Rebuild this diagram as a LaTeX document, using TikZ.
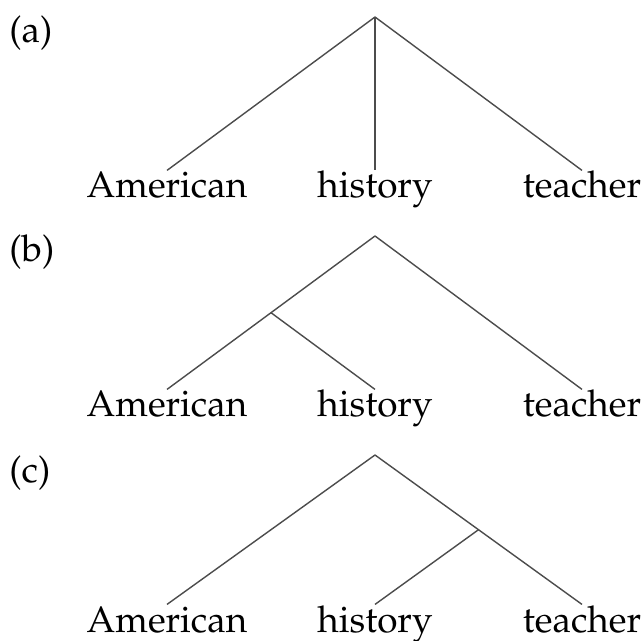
\documentclass[tikz,border=0pt]{standalone}
\usepackage[T1]{fontenc}
\usepackage{mathpazo}
\usepackage{tikz}
\usetikzlibrary{calc}

\begin{document}
\begin{tikzpicture}[x=0.02cm,y=-0.02cm,
  leaf/.style={anchor=base,inner sep=0pt,text height=0.75em,text depth=0.22em,font=\fontsize{21}{25}\selectfont},
  tag/.style={anchor=base west,inner sep=0pt,font=\fontsize{21}{25}\selectfont},
  branch/.style={draw=black!70,line width=0.8pt}]
  \useasboundingbox (0,0) rectangle (642,641);

  % (a) flat
  \node[tag] (taga) at (9,43) {(a)};
  \coordinate (topa) at (375,17);
  \node[leaf] (ama) at (167,198) {American};
  \node[leaf] (hia) at (375,198) {history};
  \node[leaf] (tea) at (582,198) {teacher};
  \draw[branch] (topa) -- ([yshift=8pt]ama.north);
  \draw[branch] (topa) -- ([yshift=8pt]hia.north);
  \draw[branch] (topa) -- ([yshift=8pt]tea.north);

  % (b) left branching
  \node[tag] (tagb) at (9,262) {(b)};
  \coordinate (topb) at (375,236);
  \node[leaf] (amb) at (167,417) {American};
  \node[leaf] (hib) at (375,417) {history};
  \node[leaf] (teb) at (582,417) {teacher};
  \coordinate (midb) at ($(topb)!0.5!([yshift=8pt]amb.north)$);
  \draw[branch] (topb) -- ([yshift=8pt]amb.north);
  \draw[branch] (midb) -- ([yshift=8pt]hib.north);
  \draw[branch] (topb) -- ([yshift=8pt]teb.north);

  % (c) right branching
  \node[tag] (tagc) at (9,482) {(c)};
  \coordinate (topc) at (375,455);
  \node[leaf] (amc) at (167,632) {American};
  \node[leaf] (hic) at (375,632) {history};
  \node[leaf] (tec) at (582,632) {teacher};
  \coordinate (midc) at ($(topc)!0.5!([yshift=8pt]tec.north)$);
  \draw[branch] (topc) -- ([yshift=8pt]amc.north);
  \draw[branch] (midc) -- ([yshift=8pt]hic.north);
  \draw[branch] (topc) -- ([yshift=8pt]tec.north);
\end{tikzpicture}
\end{document}
